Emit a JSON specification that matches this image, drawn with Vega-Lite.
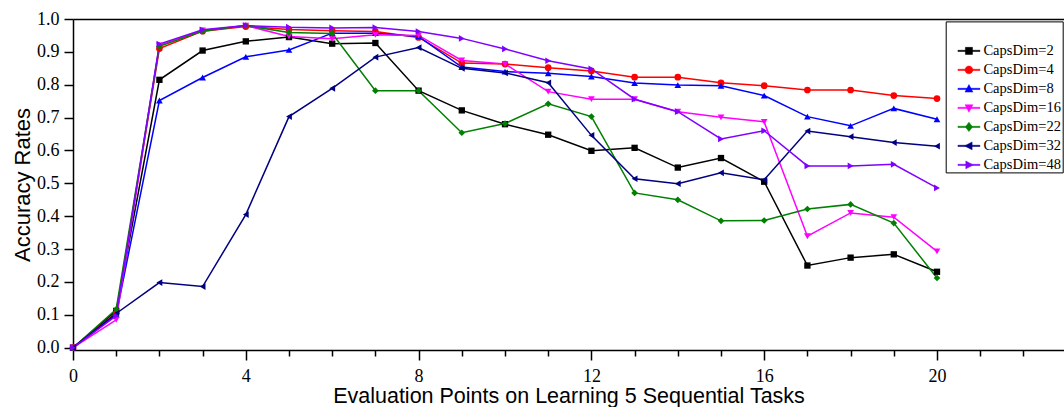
{
  "$schema": "https://vega.github.io/schema/vega-lite/v6.json",
  "autosize": "none",
  "width": 991,
  "height": 331,
  "padding": {"left": 73, "top": 19, "right": 0, "bottom": 57},
  "background": "white",
  "config": {"view": {"stroke": null}},
  "datasets": {
    "acc": [
      {"s":"CapsDim=2","x":0,"y":0},{"s":"CapsDim=2","x":1,"y":0.112},{"s":"CapsDim=2","x":2,"y":0.815},{"s":"CapsDim=2","x":3,"y":0.904},{"s":"CapsDim=2","x":4,"y":0.932},{"s":"CapsDim=2","x":5,"y":0.945},{"s":"CapsDim=2","x":6,"y":0.925},{"s":"CapsDim=2","x":7,"y":0.927},{"s":"CapsDim=2","x":8,"y":0.782},{"s":"CapsDim=2","x":9,"y":0.722},{"s":"CapsDim=2","x":10,"y":0.68},{"s":"CapsDim=2","x":11,"y":0.648},{"s":"CapsDim=2","x":12,"y":0.599},{"s":"CapsDim=2","x":13,"y":0.608},{"s":"CapsDim=2","x":14,"y":0.548},{"s":"CapsDim=2","x":15,"y":0.577},{"s":"CapsDim=2","x":16,"y":0.505},{"s":"CapsDim=2","x":17,"y":0.25},{"s":"CapsDim=2","x":18,"y":0.274},{"s":"CapsDim=2","x":19,"y":0.284},{"s":"CapsDim=2","x":20,"y":0.231},
      {"s":"CapsDim=4","x":0,"y":0},{"s":"CapsDim=4","x":1,"y":0.105},{"s":"CapsDim=4","x":2,"y":0.91},{"s":"CapsDim=4","x":3,"y":0.963},{"s":"CapsDim=4","x":4,"y":0.977},{"s":"CapsDim=4","x":5,"y":0.968},{"s":"CapsDim=4","x":6,"y":0.964},{"s":"CapsDim=4","x":7,"y":0.962},{"s":"CapsDim=4","x":8,"y":0.944},{"s":"CapsDim=4","x":9,"y":0.866},{"s":"CapsDim=4","x":10,"y":0.863},{"s":"CapsDim=4","x":11,"y":0.852},{"s":"CapsDim=4","x":12,"y":0.842},{"s":"CapsDim=4","x":13,"y":0.823},{"s":"CapsDim=4","x":14,"y":0.823},{"s":"CapsDim=4","x":15,"y":0.806},{"s":"CapsDim=4","x":16,"y":0.797},{"s":"CapsDim=4","x":17,"y":0.784},{"s":"CapsDim=4","x":18,"y":0.784},{"s":"CapsDim=4","x":19,"y":0.767},{"s":"CapsDim=4","x":20,"y":0.758},
      {"s":"CapsDim=8","x":0,"y":0},{"s":"CapsDim=8","x":1,"y":0.1},{"s":"CapsDim=8","x":2,"y":0.752},{"s":"CapsDim=8","x":3,"y":0.822},{"s":"CapsDim=8","x":4,"y":0.885},{"s":"CapsDim=8","x":5,"y":0.906},{"s":"CapsDim=8","x":6,"y":0.957},{"s":"CapsDim=8","x":7,"y":0.957},{"s":"CapsDim=8","x":8,"y":0.947},{"s":"CapsDim=8","x":9,"y":0.854},{"s":"CapsDim=8","x":10,"y":0.84},{"s":"CapsDim=8","x":11,"y":0.835},{"s":"CapsDim=8","x":12,"y":0.825},{"s":"CapsDim=8","x":13,"y":0.805},{"s":"CapsDim=8","x":14,"y":0.799},{"s":"CapsDim=8","x":15,"y":0.797},{"s":"CapsDim=8","x":16,"y":0.767},{"s":"CapsDim=8","x":17,"y":0.703},{"s":"CapsDim=8","x":18,"y":0.675},{"s":"CapsDim=8","x":19,"y":0.728},{"s":"CapsDim=8","x":20,"y":0.695},
      {"s":"CapsDim=16","x":0,"y":0},{"s":"CapsDim=16","x":1,"y":0.085},{"s":"CapsDim=16","x":2,"y":0.92},{"s":"CapsDim=16","x":3,"y":0.965},{"s":"CapsDim=16","x":4,"y":0.98},{"s":"CapsDim=16","x":5,"y":0.947},{"s":"CapsDim=16","x":6,"y":0.94},{"s":"CapsDim=16","x":7,"y":0.952},{"s":"CapsDim=16","x":8,"y":0.95},{"s":"CapsDim=16","x":9,"y":0.874},{"s":"CapsDim=16","x":10,"y":0.863},{"s":"CapsDim=16","x":11,"y":0.779},{"s":"CapsDim=16","x":12,"y":0.756},{"s":"CapsDim=16","x":13,"y":0.756},{"s":"CapsDim=16","x":14,"y":0.718},{"s":"CapsDim=16","x":15,"y":0.701},{"s":"CapsDim=16","x":16,"y":0.687},{"s":"CapsDim=16","x":17,"y":0.339},{"s":"CapsDim=16","x":18,"y":0.41},{"s":"CapsDim=16","x":19,"y":0.397},{"s":"CapsDim=16","x":20,"y":0.293},
      {"s":"CapsDim=22","x":0,"y":0},{"s":"CapsDim=22","x":1,"y":0.117},{"s":"CapsDim=22","x":2,"y":0.917},{"s":"CapsDim=22","x":3,"y":0.963},{"s":"CapsDim=22","x":4,"y":0.98},{"s":"CapsDim=22","x":5,"y":0.959},{"s":"CapsDim=22","x":6,"y":0.956},{"s":"CapsDim=22","x":7,"y":0.782},{"s":"CapsDim=22","x":8,"y":0.782},{"s":"CapsDim=22","x":9,"y":0.654},{"s":"CapsDim=22","x":10,"y":0.682},{"s":"CapsDim=22","x":11,"y":0.742},{"s":"CapsDim=22","x":12,"y":0.703},{"s":"CapsDim=22","x":13,"y":0.471},{"s":"CapsDim=22","x":14,"y":0.45},{"s":"CapsDim=22","x":15,"y":0.386},{"s":"CapsDim=22","x":16,"y":0.387},{"s":"CapsDim=22","x":17,"y":0.422},{"s":"CapsDim=22","x":18,"y":0.436},{"s":"CapsDim=22","x":19,"y":0.379},{"s":"CapsDim=22","x":20,"y":0.212},
      {"s":"CapsDim=32","x":0,"y":0},{"s":"CapsDim=32","x":1,"y":0.104},{"s":"CapsDim=32","x":2,"y":0.198},{"s":"CapsDim=32","x":3,"y":0.186},{"s":"CapsDim=32","x":4,"y":0.405},{"s":"CapsDim=32","x":5,"y":0.703},{"s":"CapsDim=32","x":6,"y":0.789},{"s":"CapsDim=32","x":7,"y":0.884},{"s":"CapsDim=32","x":8,"y":0.913},{"s":"CapsDim=32","x":9,"y":0.85},{"s":"CapsDim=32","x":10,"y":0.836},{"s":"CapsDim=32","x":11,"y":0.806},{"s":"CapsDim=32","x":12,"y":0.646},{"s":"CapsDim=32","x":13,"y":0.514},{"s":"CapsDim=32","x":14,"y":0.499},{"s":"CapsDim=32","x":15,"y":0.532},{"s":"CapsDim=32","x":16,"y":0.511},{"s":"CapsDim=32","x":17,"y":0.659},{"s":"CapsDim=32","x":18,"y":0.642},{"s":"CapsDim=32","x":19,"y":0.624},{"s":"CapsDim=32","x":20,"y":0.613},
      {"s":"CapsDim=48","x":0,"y":0},{"s":"CapsDim=48","x":1,"y":0.097},{"s":"CapsDim=48","x":2,"y":0.924},{"s":"CapsDim=48","x":3,"y":0.967},{"s":"CapsDim=48","x":4,"y":0.98},{"s":"CapsDim=48","x":5,"y":0.975},{"s":"CapsDim=48","x":6,"y":0.973},{"s":"CapsDim=48","x":7,"y":0.974},{"s":"CapsDim=48","x":8,"y":0.962},{"s":"CapsDim=48","x":9,"y":0.941},{"s":"CapsDim=48","x":10,"y":0.909},{"s":"CapsDim=48","x":11,"y":0.873},{"s":"CapsDim=48","x":12,"y":0.848},{"s":"CapsDim=48","x":13,"y":0.756},{"s":"CapsDim=48","x":14,"y":0.718},{"s":"CapsDim=48","x":15,"y":0.635},{"s":"CapsDim=48","x":16,"y":0.66},{"s":"CapsDim=48","x":17,"y":0.553},{"s":"CapsDim=48","x":18,"y":0.553},{"s":"CapsDim=48","x":19,"y":0.558},{"s":"CapsDim=48","x":20,"y":0.486}
    ]
  },
  "data": {"name": "acc"},
  "resolve": {"axis": {"x": "independent"}},
  "encoding": {
    "y": {"field": "y", "type": "quantitative",
      "scale": {"domain": [-0.007, 1], "nice": false, "zero": false},
      "axis": {
        "values": [0,0.1,0.2,0.3,0.4,0.5,0.6,0.7,0.8,0.9,1.0],
        "format": ".1f",
        "labelOverlap": false, "labelFlush": false,
        "tickSize": 9, "tickColor": "black", "tickWidth": 1.5,
        "domainColor": "black", "domainWidth": 1.5,
        "grid": false,
        "labelFont": "Liberation Serif", "labelFontSize": 18, "labelColor": "black", "labelPadding": 5,
        "title": "Accuracy Rates",
        "titleFont": "Liberation Sans", "titleFontSize": 22, "titleFontWeight": "normal", "titleColor": "black", "titlePadding": 2
      }},
    "color": {"field": "s", "type": "nominal",
      "scale": {
        "domain": ["CapsDim=2","CapsDim=4","CapsDim=8","CapsDim=16","CapsDim=22","CapsDim=32","CapsDim=48"],
        "range": ["#000000","#ff0000","#0000ff","#ff00ff","#008000","#000080","#8000ff"]
      },
      "legend": null}
  },
  "layer": [
    {
      "mark": {"type": "line", "strokeWidth": 1.5},
      "encoding": {
        "x": {"field": "x", "type": "quantitative",
          "scale": {"domain": [0, 22.94], "nice": false, "zero": false},
          "axis": {
            "orient": "bottom",
            "values": [0,1,2,3,4,5,6,7,8,9,10,11,12,13,14,15,16,17,18,19,20,21,22],
            "labelExpr": "datum.value % 4 === 0 ? datum.label : ''",
            "labelOverlap": false, "labelFlush": false,
            "tickSize": {"condition": {"test": "datum.value % 4 === 0", "value": 10}, "value": 6},
            "tickColor": "black", "tickWidth": 1.5,
            "domainColor": "black", "domainWidth": 1.5,
            "grid": false,
            "labelFont": "Liberation Serif", "labelFontSize": 18, "labelColor": "black", "labelPadding": 7,
            "title": "Evaluation Points on Learning 5 Sequential Tasks",
            "titleFont": "Liberation Sans", "titleFontSize": 21.5, "titleFontWeight": "normal", "titleColor": "black", "titlePadding": 0
          }},
        "color": {"field": "s", "type": "nominal",
          "legend": {
            "orient": "none", "legendX": 872.7, "legendY": 2.4,
            "title": "\u00a0", "titleFontSize": 10, "titlePadding": 10,
            "padding": 1, "strokeColor": "black", "fillColor": "white",
            "symbolSize": 247, "symbolOffset": 13.75, "labelOffset": 6, "rowPadding": 4,
            "labelFont": "Liberation Serif", "labelFontSize": 14.5, "labelColor": "black",
            "labelExpr": "datum.label + '\u00a0\u00a0\u00a0\u00a0'",
            "encode": {
              "symbols": {
                "update": {
                  "shape": {"signal": "datum.value === 'CapsDim=2' ? 'M-1.4,-0.08H1.4V0.08H-1.4ZM-0.45,-0.45H0.45V0.45H-0.45Z' : datum.value === 'CapsDim=4' ? 'M-1.4,-0.08H1.4V0.08H-1.4ZM-0.5,0A0.5,0.5 0 1,1 0.5,0A0.5,0.5 0 1,1 -0.5,0Z' : datum.value === 'CapsDim=8' ? 'M-1.4,-0.08H1.4V0.08H-1.4ZM0,-0.55L0.5,0.4L-0.5,0.4Z' : datum.value === 'CapsDim=16' ? 'M-1.4,-0.08H1.4V0.08H-1.4ZM0,0.55L-0.5,-0.4L0.5,-0.4Z' : datum.value === 'CapsDim=22' ? 'M-1.4,-0.08H1.4V0.08H-1.4ZM0,-0.6L0.45,0L0,0.6L-0.45,0Z' : datum.value === 'CapsDim=32' ? 'M-1.4,-0.08H1.4V0.08H-1.4ZM-0.55,0L0.4,-0.5L0.4,0.5Z' : 'M-1.4,-0.08H1.4V0.08H-1.4ZM0.55,0L-0.4,0.5L-0.4,-0.5Z'"},
                  "fill": {"signal": "scale('color', datum.value)"},
                  "stroke": {"signal": "scale('color', datum.value)"},
                  "strokeWidth": {"value": 0.5},
                  "opacity": {"value": 1},
                  "size": {"value": 247}
                }
              }
            }
          }}
      }
    },
    {
      "transform": [{"filter": "datum.s === 'CapsDim=2'"}],
      "mark": {"type": "point", "filled": true, "shape": "square", "size": 40, "opacity": 1},
      "encoding": {"x": {"field": "x", "type": "quantitative",
        "axis": {"orient": "top", "labels": false, "ticks": false, "domainColor": "black", "domainWidth": 1.5, "grid": false, "title": null}}}
    },
    {
      "transform": [{"filter": "datum.s === 'CapsDim=4'"}],
      "mark": {"type": "point", "filled": true, "shape": "circle", "size": 45, "opacity": 1},
      "encoding": {"x": {"field": "x", "type": "quantitative", "axis": null}}
    },
    {
      "transform": [{"filter": "datum.s === 'CapsDim=8'"}],
      "mark": {"type": "point", "filled": true, "shape": "triangle-up", "size": 45, "opacity": 1},
      "encoding": {"x": {"field": "x", "type": "quantitative", "axis": null}}
    },
    {
      "transform": [{"filter": "datum.s === 'CapsDim=16'"}],
      "mark": {"type": "point", "filled": true, "shape": "triangle-down", "size": 45, "opacity": 1},
      "encoding": {"x": {"field": "x", "type": "quantitative", "axis": null}}
    },
    {
      "transform": [{"filter": "datum.s === 'CapsDim=22'"}],
      "mark": {"type": "point", "filled": true, "shape": "diamond", "size": 45, "opacity": 1},
      "encoding": {"x": {"field": "x", "type": "quantitative", "axis": null}}
    },
    {
      "transform": [{"filter": "datum.s === 'CapsDim=32'"}],
      "mark": {"type": "point", "filled": true, "shape": "triangle-left", "size": 45, "opacity": 1},
      "encoding": {"x": {"field": "x", "type": "quantitative", "axis": null}}
    },
    {
      "transform": [{"filter": "datum.s === 'CapsDim=48'"}],
      "mark": {"type": "point", "filled": true, "shape": "triangle-right", "size": 45, "opacity": 1},
      "encoding": {"x": {"field": "x", "type": "quantitative", "axis": null}}
    }
  ]
}
